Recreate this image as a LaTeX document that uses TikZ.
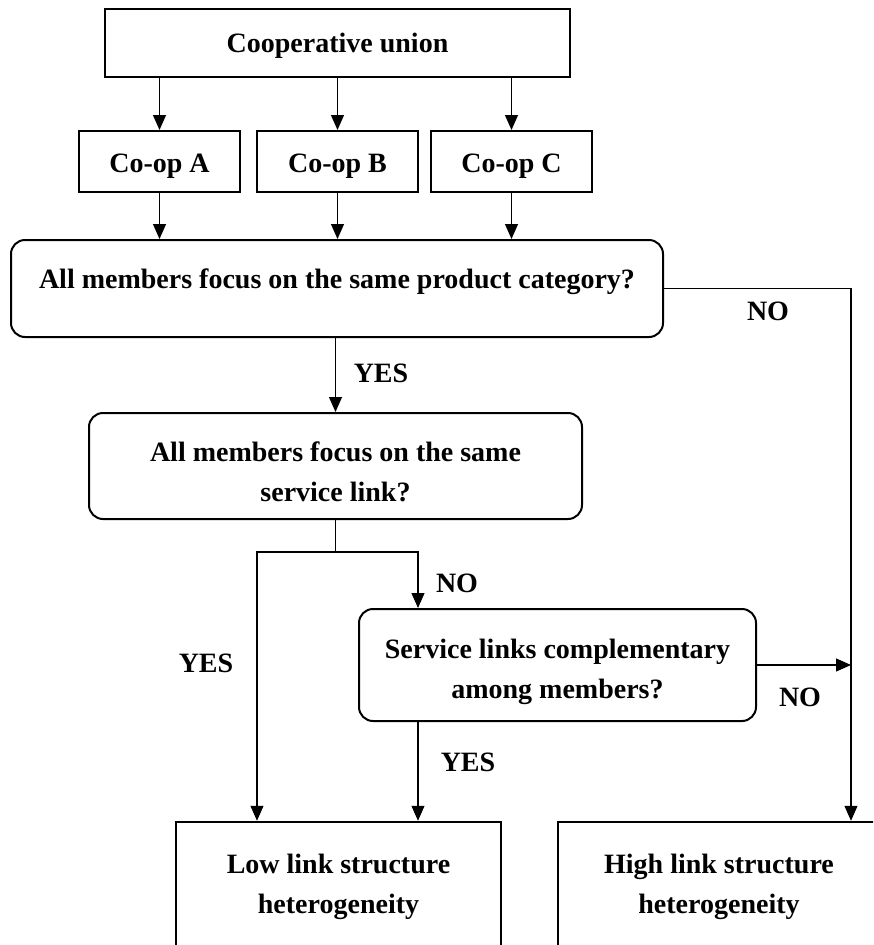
\documentclass[tikz,border=0pt]{standalone}
\usepackage{fontspec}
\setmainfont{Liberation Serif}
\usetikzlibrary{arrows.meta}
\begin{document}
\begin{tikzpicture}[x=1pt,y=-1pt,
  txt/.style={font=\bfseries\fontsize{28}{40}\selectfont},
  box/.style={txt, draw, line width=2pt, inner sep=0pt, align=center},
  rbox/.style={box, rounded corners=14pt},
  conn/.style={line width=1.1pt, -{Triangle[length=15pt,width=13pt]}},
  lab/.style={txt, inner sep=0pt}]
\clip (0,0) rectangle (873,945);
\useasboundingbox (0,0) rectangle (873,945);
% nodes
\node[box, minimum width=465pt, minimum height=68pt, text height=25pt] (union) at (337.5,43) {Cooperative union};
\node[box, minimum width=161pt, minimum height=61pt, text height=27pt] (coA) at (159.5,161.5) {Co-op A};
\node[box, minimum width=161pt, minimum height=61pt, text height=27pt] (coB) at (337.5,161.5) {Co-op B};
\node[box, minimum width=161pt, minimum height=61pt, text height=27pt] (coC) at (511.5,161.5) {Co-op C};
\node[rbox, minimum width=652pt, minimum height=97pt, text depth=19pt] (dec1) at (337,288.5) {All members focus on the same product category?};
\node[rbox, minimum width=493pt, minimum height=106pt, text height=72pt] (dec2) at (335.5,466) {All members focus on the same\\service link?};
\node[rbox, minimum width=397pt, minimum height=112pt, text height=74pt] (dec3) at (557.5,665) {Service links complementary\\among members?};
\node[box, line width=2.5pt, minimum width=325pt, minimum height=130pt] (low) at (338.5,887) {Low link structure\\heterogeneity};
\node[box, line width=2.5pt, minimum width=322pt, minimum height=130pt] (high) at (719,887) {High link structure\\heterogeneity};
% coordinates
\coordinate (rail) at (851,288.5);
\coordinate (sl) at (257,552);
\coordinate (sr) at (418,552);
% connectors
\draw[conn] (union.south -| coA) -- (coA.north);
\draw[conn] (union.south -| coB) -- (coB.north);
\draw[conn] (union.south -| coC) -- (coC.north);
\draw[conn] (coA.south) -- (coA.south |- dec1.north);
\draw[conn] (coB.south) -- (coB.south |- dec1.north);
\draw[conn] (coC.south) -- (coC.south |- dec1.north);
\draw[conn] (dec1.east) -- (dec1.east -| rail) -- (rail |- high.north);
\draw[conn] (dec2.north |- dec1.south) -- (dec2.north);
\draw[conn] (dec2.south) -- (dec2.south |- sl) -- (sl) -- (sl |- low.north);
\draw[conn] (dec2.south |- sr) -- (sr) -- (sr |- dec3.north);
\draw[conn] (sr |- dec3.south) -- (sr |- low.north);
\draw[conn] (dec3.east) -- (dec3.east -| rail);
% labels
\node[lab] (no1) at (768,311) {NO};
\node[lab] (yes1) at (381,373) {YES};
\node[lab] (no2) at (457,583) {NO};
\node[lab] (yes2) at (206,663) {YES};
\node[lab] (no3) at (800,697) {NO};
\node[lab] (yes3) at (468,762) {YES};
\end{tikzpicture}
\end{document}
